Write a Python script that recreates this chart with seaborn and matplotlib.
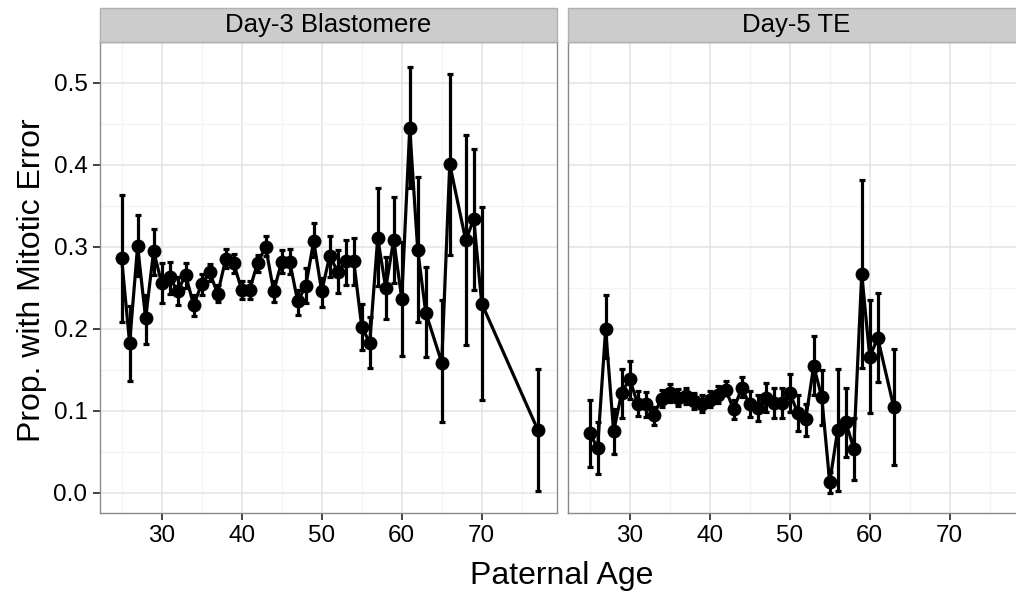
import numpy as np
import pandas as pd
import matplotlib
matplotlib.use("Agg")
import matplotlib.pyplot as plt
import seaborn as sns
from matplotlib.patches import Rectangle
from matplotlib.ticker import MultipleLocator, FormatStrFormatter

# ---------------- data ----------------
panels = ["Day-3 Blastomere", "Day-5 TE"]

ages_d3 = [25, 26, 27, 28, 29, 30, 31, 32, 33, 34, 35, 36, 37, 38, 39, 40, 41, 42, 43, 44,
           45, 46, 47, 48, 49, 50, 51, 52, 53, 54, 55, 56, 57, 58, 59, 60, 61, 62, 63, 65,
           66, 68, 69, 70, 77]
val_d3 = [0.286, 0.183, 0.301, 0.213, 0.295, 0.256, 0.263, 0.246, 0.266, 0.229, 0.255, 0.269,
          0.243, 0.285, 0.280, 0.248, 0.248, 0.281, 0.300, 0.246, 0.282, 0.282, 0.234, 0.252,
          0.307, 0.246, 0.289, 0.270, 0.283, 0.283, 0.203, 0.183, 0.311, 0.250, 0.309, 0.237,
          0.445, 0.296, 0.220, 0.159, 0.401, 0.308, 0.334, 0.231, 0.077]
lo_d3 = [0.209, 0.137, 0.265, 0.182, 0.266, 0.232, 0.243, 0.229, 0.250, 0.216, 0.241, 0.258,
         0.233, 0.274, 0.268, 0.237, 0.237, 0.269, 0.289, 0.233, 0.268, 0.267, 0.217, 0.232,
         0.288, 0.227, 0.264, 0.244, 0.254, 0.254, 0.174, 0.152, 0.252, 0.212, 0.256, 0.167,
         0.372, 0.208, 0.166, 0.086, 0.290, 0.180, 0.248, 0.113, 0.002]
hi_d3 = [0.363, 0.228, 0.339, 0.241, 0.322, 0.280, 0.282, 0.264, 0.281, 0.241, 0.267, 0.279,
         0.254, 0.297, 0.291, 0.258, 0.258, 0.290, 0.313, 0.258, 0.296, 0.298, 0.248, 0.274,
         0.329, 0.262, 0.313, 0.296, 0.309, 0.311, 0.231, 0.215, 0.372, 0.288, 0.361, 0.306,
         0.520, 0.385, 0.275, 0.235, 0.511, 0.437, 0.420, 0.349, 0.151]

ages_d5 = [25, 26, 27, 28, 29, 30, 31, 32, 33, 34, 35, 36, 37, 38, 39, 40, 41, 42, 43, 44,
           45, 46, 47, 48, 49, 50, 51, 52, 53, 54, 55, 56, 57, 58, 59, 60, 61, 63]
val_d5 = [0.073, 0.055, 0.200, 0.075, 0.122, 0.139, 0.109, 0.108, 0.095, 0.115, 0.122, 0.116,
          0.118, 0.112, 0.109, 0.114, 0.120, 0.126, 0.102, 0.128, 0.108, 0.104, 0.116, 0.110,
          0.110, 0.122, 0.098, 0.090, 0.155, 0.117, 0.013, 0.077, 0.087, 0.054, 0.267, 0.166,
          0.189, 0.105]
lo_d5 = [0.032, 0.023, 0.165, 0.047, 0.092, 0.115, 0.094, 0.093, 0.083, 0.105, 0.111, 0.106,
         0.108, 0.102, 0.099, 0.105, 0.110, 0.119, 0.090, 0.117, 0.093, 0.088, 0.099, 0.091,
         0.091, 0.099, 0.076, 0.069, 0.119, 0.083, 0.000, 0.002, 0.044, 0.016, 0.152, 0.098,
         0.135, 0.034]
hi_d5 = [0.113, 0.087, 0.241, 0.102, 0.151, 0.161, 0.124, 0.123, 0.105, 0.126, 0.133, 0.127,
         0.128, 0.122, 0.119, 0.124, 0.130, 0.136, 0.113, 0.142, 0.124, 0.119, 0.134, 0.128,
         0.128, 0.145, 0.120, 0.109, 0.192, 0.150, 0.026, 0.151, 0.128, 0.091, 0.382, 0.235,
         0.244, 0.176]

x_label = "Paternal Age"
y_label = "Prop. with Mitotic Error"

df = pd.concat([
    pd.DataFrame({"panel": panels[0], "age": ages_d3, "val": val_d3, "lo": lo_d3, "hi": hi_d3}),
    pd.DataFrame({"panel": panels[1], "age": ages_d5, "val": val_d5, "lo": lo_d5, "hi": hi_d5}),
], ignore_index=True)

# ---------------- style ----------------
sns.set_theme(style="white")
plt.rcParams["font.family"] = ["Liberation Sans", "DejaVu Sans"]

g = sns.FacetGrid(df, col="panel", col_order=panels, sharex=True, sharey=True,
                  height=5, aspect=1)


def draw(data, **kw):
    ax = plt.gca()
    ax.errorbar(data["age"], data["val"],
                yerr=[data["val"] - data["lo"], data["hi"] - data["val"]],
                fmt="none", ecolor="black", elinewidth=2.3, capsize=2.2, capthick=2.3,
                zorder=3)
    sns.lineplot(data=data, x="age", y="val", estimator=None, color="black", lw=2.3,
                 marker="o", markersize=10, markeredgewidth=0, ax=ax, zorder=4)


g.map_dataframe(draw)
g.set_titles("")
g.set_axis_labels("", "")

fig = g.figure
fig.set_size_inches(10.16, 5.92)
fig.set_dpi(100)

W, H = 1016.0, 592.0
ax_top, ax_bot = 42.0, 513.0
ax_h = ax_bot - ax_top
lefts = [100.0, 568.0]
pw = 457.0
strip_h = 34.0

for i, ax in enumerate(g.axes.flat):
    ax.set_position([lefts[i] / W, 1 - ax_bot / H, pw / W, ax_h / H])
    ax.set_xlim(22.3, 79.4)
    ax.set_ylim(-0.0244, 0.55)
    ax.xaxis.set_major_locator(MultipleLocator(10))
    ax.xaxis.set_minor_locator(MultipleLocator(5))
    ax.yaxis.set_major_locator(MultipleLocator(0.1))
    ax.yaxis.set_minor_locator(MultipleLocator(0.05))
    ax.yaxis.set_major_formatter(FormatStrFormatter("%.1f"))
    ax.set_facecolor("white")
    ax.grid(which="major", color="#e3e3e3", lw=1.1, zorder=0)
    ax.grid(which="minor", color="#f4f4f4", lw=0.9, zorder=0)
    ax.set_axisbelow(True)
    for s in ax.spines.values():
        s.set_visible(True)
        s.set_color("#8a8a8a")
        s.set_linewidth(1.0)
    ax.tick_params(which="major", direction="out", length=5, width=1.3,
                   color="#333333", labelsize=17.5, labelcolor="black", pad=4)
    ax.tick_params(which="minor", length=0)
    ax.tick_params(axis="x", bottom=True)
    ax.set_xlabel("")
    ax.set_ylabel("")
    # strip
    ax.add_patch(Rectangle((0, 1), 1, strip_h / ax_h, transform=ax.transAxes,
                           clip_on=False, facecolor="#cccccc", edgecolor="#b0b0b0",
                           lw=1.0, zorder=5))
    ax.text(0.5, 1 + strip_h / ax_h / 2, panels[i], transform=ax.transAxes,
            ha="center", va="center", fontsize=18.5, color="black", zorder=6)
    if i == 0:
        ax.tick_params(axis="y", left=True)
    else:
        ax.tick_params(axis="y", left=False, labelleft=False)

fig.text(32 / W, 1 - 280 / H, y_label, rotation=90, ha="center", va="center",
         fontsize=23, color="black")
fig.text(562 / W, 1 - 576 / H, x_label, ha="center", va="center",
         fontsize=23, color="black")

fig.savefig("out.png", dpi=100)
